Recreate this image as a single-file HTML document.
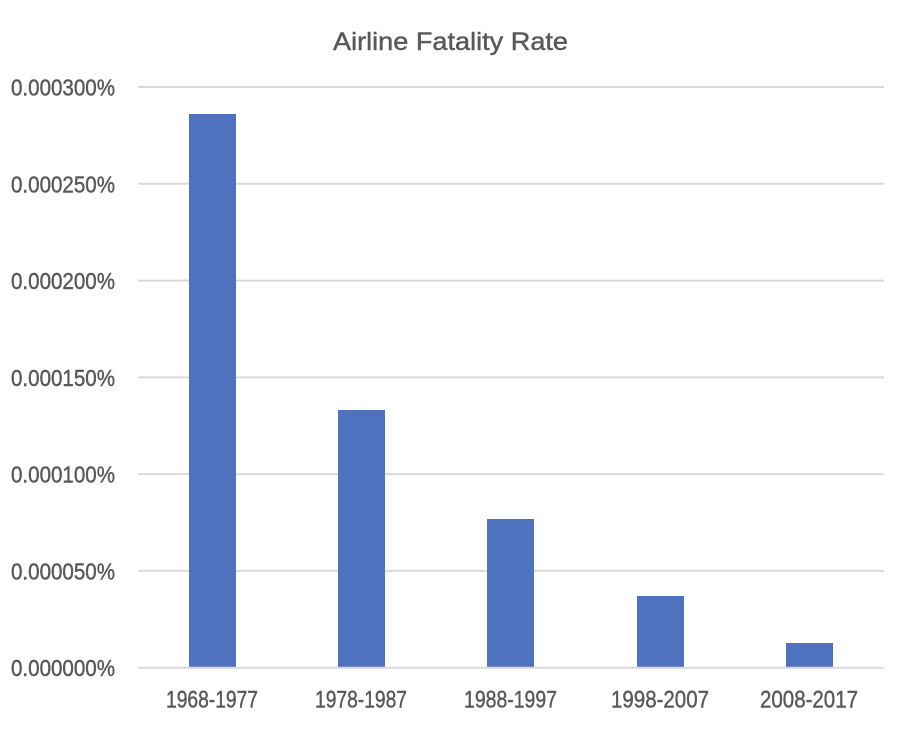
<!DOCTYPE html>
<html>
<head>
<meta charset="utf-8">
<style>
  html, body { margin: 0; padding: 0; background: #ffffff; }
  svg { display: block; }
  text { font-family: "Liberation Sans", "DejaVu Sans", sans-serif; fill: #595959; stroke: #595959; stroke-width: 0.45; }
</style>
</head>
<body>
<svg width="898" height="730" viewBox="0 0 898 730" xmlns="http://www.w3.org/2000/svg">
  <rect x="0" y="0" width="898" height="730" fill="#ffffff"/>

  <!-- Title -->
  <text x="333" y="50" font-size="25" textLength="235" lengthAdjust="spacingAndGlyphs">Airline Fatality Rate</text>

  <!-- Gridlines -->
  <g stroke="#D9D9D9" stroke-width="2">
    <line x1="138" y1="87" x2="884" y2="87"/>
    <line x1="138" y1="183.8" x2="884" y2="183.8"/>
    <line x1="138" y1="280.6" x2="884" y2="280.6"/>
    <line x1="138" y1="377.4" x2="884" y2="377.4"/>
    <line x1="138" y1="474.1" x2="884" y2="474.1"/>
    <line x1="138" y1="570.9" x2="884" y2="570.9"/>
  </g>

  <!-- Bars -->
  <g fill="#4E72BE">
    <rect x="189" y="114" width="47" height="553"/>
    <rect x="338" y="410" width="47" height="257"/>
    <rect x="487" y="519" width="47" height="148"/>
    <rect x="637" y="596" width="47" height="71"/>
    <rect x="786" y="643" width="47" height="24"/>
  </g>

  <!-- Zero axis line -->
  <line x1="138" y1="667.7" x2="884" y2="667.7" stroke="#D9D9D9" stroke-width="2"/>

  <!-- Y axis labels -->
  <g font-size="23.5">
    <text x="11" y="95.5" textLength="104" lengthAdjust="spacingAndGlyphs">0.000300%</text>
    <text x="11" y="192.3" textLength="104" lengthAdjust="spacingAndGlyphs">0.000250%</text>
    <text x="11" y="289.1" textLength="104" lengthAdjust="spacingAndGlyphs">0.000200%</text>
    <text x="11" y="385.9" textLength="104" lengthAdjust="spacingAndGlyphs">0.000150%</text>
    <text x="11" y="482.6" textLength="104" lengthAdjust="spacingAndGlyphs">0.000100%</text>
    <text x="11" y="579.4" textLength="104" lengthAdjust="spacingAndGlyphs">0.000050%</text>
    <text x="11" y="676.2" textLength="104" lengthAdjust="spacingAndGlyphs">0.000000%</text>
  </g>

  <!-- X axis labels -->
  <g font-size="24">
    <text x="166" y="707.5" textLength="92" lengthAdjust="spacingAndGlyphs">1968-1977</text>
    <text x="315" y="707.5" textLength="92" lengthAdjust="spacingAndGlyphs">1978-1987</text>
    <text x="464" y="707.5" textLength="93" lengthAdjust="spacingAndGlyphs">1988-1997</text>
    <text x="611" y="707.5" textLength="98" lengthAdjust="spacingAndGlyphs">1998-2007</text>
    <text x="760" y="707.5" textLength="98" lengthAdjust="spacingAndGlyphs">2008-2017</text>
  </g>
</svg>
</body>
</html>
